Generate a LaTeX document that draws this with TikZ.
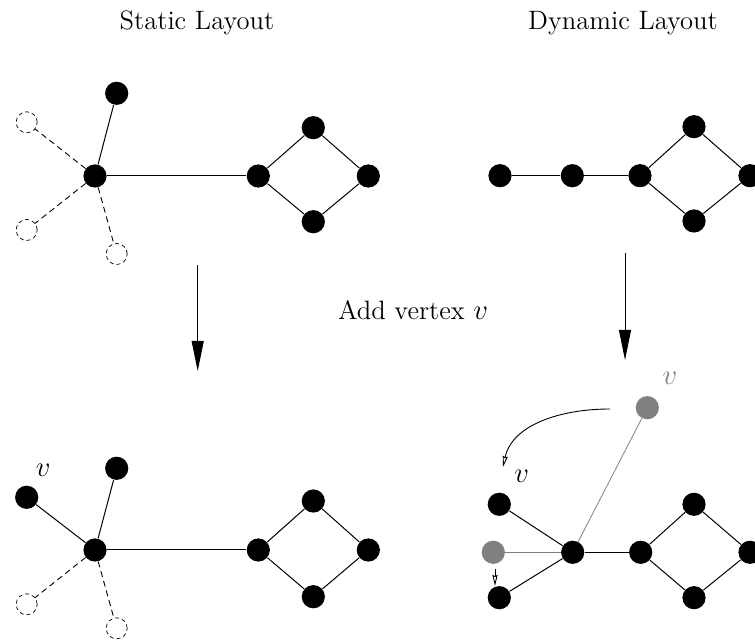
\documentclass[tikz,border=0pt]{standalone}
\usetikzlibrary{arrows.meta}
\begin{document}
\begin{tikzpicture}[x=0.5pt,y=-0.5pt,
  vtx/.style={circle,fill=black,inner sep=0pt,minimum size=11.6pt},
  gvtx/.style={circle,fill=black!50,inner sep=0pt,minimum size=11.6pt},
  ghost/.style={circle,draw,line width=0.35pt,dash pattern=on 2pt off 1.5pt,inner sep=0pt,minimum size=10.5pt},
  edge/.style={line width=0.5pt},
  dedge/.style={line width=0.45pt,dash pattern=on 3pt off 2pt},
  gedge/.style={line width=0.4pt,black!50},
  bigarrow/.style={line width=0.5pt,-{Triangle[length=15pt,width=6pt]}},
  thinarrow/.style={line width=0.45pt,-{Stealth[open,length=5.5pt,width=2.6pt,inset=0.5pt]}},
  txt/.style={font=\fontsize{13.3pt}{16pt}\selectfont,inner sep=0pt}]
\useasboundingbox (0,0) rectangle (755,640);
% titles
\node[txt,anchor=base] (t1) at (197,30) {Static Layout};
\node[txt,anchor=base] (t2) at (623,30) {Dynamic Layout};
\node[txt,anchor=base] (add) at (413,320) {Add vertex $v$};
% ---------- top-left ----------
\node[vtx] (a1) at (116.7,93.3) {};
\node[vtx] (ah) at (95,176) {};
\node[ghost] (ag1) at (26.7,122.3) {};
\node[ghost] (ag2) at (26.7,230) {};
\node[ghost] (ag3) at (116.7,254) {};
\node[vtx] (al) at (258.3,176) {};
\node[vtx] (at) at (313.3,127.7) {};
\node[vtx] (ar) at (368.3,176) {};
\node[vtx] (ab) at (313.3,221.7) {};
\draw[edge] (ah) -- (a1);
\draw[edge] (ah) -- (al);
\draw[edge] (al) -- (at) -- (ar) -- (ab) -- (al);
\draw[dedge] (ah) -- (ag1);
\draw[dedge] (ah) -- (ag2);
\draw[dedge] (ah) -- (ag3);
% ---------- top-right ----------
\node[vtx] (b1) at (500,175.7) {};
\node[vtx] (b2) at (572.3,175.7) {};
\node[vtx] (bl) at (640,175.7) {};
\node[vtx] (bt) at (694,126.7) {};
\node[vtx] (br) at (750,175.7) {};
\node[vtx] (bb) at (694,221) {};
\draw[edge] (b1) -- (b2) -- (bl);
\draw[edge] (bl) -- (bt) -- (br) -- (bb) -- (bl);
% ---------- arrows ----------
\coordinate (l1) at (197.7,265);
\coordinate (l2) at (197.7,371);
\draw[bigarrow] (l1) -- (l2);
\coordinate (r1) at (625,253);
\coordinate (r2) at (625,360);
\draw[bigarrow] (r1) -- (r2);
% ---------- bottom-left ----------
\node[vtx] (cv) at (26.7,497.3) {};
\node[txt] (cvl) at (43.3,470) {$v$};
\node[vtx] (c1) at (116.7,468.3) {};
\node[vtx] (ch) at (95,550) {};
\node[ghost] (cg2) at (26.7,604.3) {};
\node[ghost] (cg3) at (116.7,628.3) {};
\node[vtx] (cl) at (258.3,550) {};
\node[vtx] (ct) at (313.3,501) {};
\node[vtx] (cr) at (368.3,550) {};
\node[vtx] (cb) at (313.3,596.7) {};
\draw[edge] (ch) -- (cv);
\draw[edge] (ch) -- (c1);
\draw[edge] (ch) -- (cl);
\draw[edge] (cl) -- (ct) -- (cr) -- (cb) -- (cl);
\draw[dedge] (ch) -- (cg2);
\draw[dedge] (ch) -- (cg3);
% ---------- bottom-right ----------
\node[gvtx] (dg) at (647.3,407.7) {};
\node[txt,text=black!50] (dgl) at (670,378) {$v$};
\node[txt] (dvl) at (521.7,476.7) {$v$};
\node[vtx] (du) at (499.3,504.3) {};
\node[gvtx] (dm) at (493.3,552.3) {};
\node[vtx] (dh) at (572.7,552.3) {};
\node[vtx] (dd) at (499.3,597.7) {};
\node[vtx] (dl) at (640.7,552.3) {};
\node[vtx] (dt) at (694,504.3) {};
\node[vtx] (dr) at (750,552.3) {};
\node[vtx] (db) at (694,597.7) {};
\draw[gedge] (dh) -- (dg);
\draw[gedge] (dh) -- (dm);
\draw[edge] (dh) -- (du);
\draw[edge] (dh) -- (dd);
\draw[edge] (dh) -- (dl);
\draw[edge] (dl) -- (dt) -- (dr) -- (db) -- (dl);
\coordinate (m1) at (610,409);
\coordinate (m2) at (503,467);
\draw[thinarrow] (m1) .. controls (560,409) and (512,425) .. (m2);
\coordinate (s1) at (495,569);
\coordinate (s2) at (495,586);
\draw[thinarrow] (s1) -- (s2);
\end{tikzpicture}
\end{document}
